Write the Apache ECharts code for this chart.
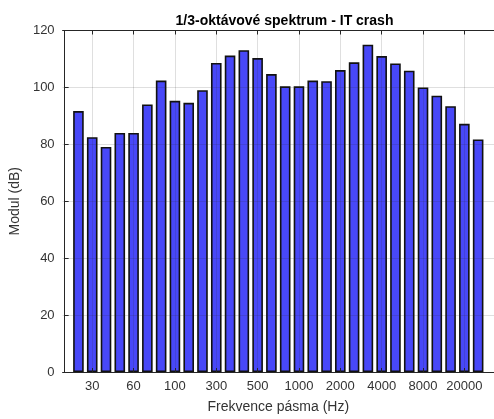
<!DOCTYPE html>
<html><head><meta charset="utf-8">
<script src="https://cdn.jsdelivr.net/npm/echarts@6/dist/echarts.min.js"></script>
<style>html,body{margin:0;padding:0;background:#fff}#c{width:494px;height:419px}</style>
</head><body><div id="c"></div>
<script>
// 1/3-octave band index (1 = 25 Hz ... 30 = 20 kHz)
const bandIndex = [1,2,3,4,5,6,7,8,9,10,11,12,13,14,15,16,17,18,19,20,21,22,23,24,25,26,27,28,29,30];
const levels = [91.7,82.5,79.1,84.0,84.0,94.0,102.4,95.3,94.6,99.0,108.6,111.2,113.1,110.3,104.7,100.4,100.4,102.4,102.2,106.1,108.8,115.0,111.0,108.4,105.9,100.0,97.1,93.4,87.2,81.7];
const tickPositions = [2,5,8,11,14,17,20,23,26,29];
const tickLabels = ['30','60','100','300','500','1000','2000','4000','8000','20000'];
const yMin = 0, yMax = 120, yStep = 20;

const txt = '#333333';
const font = 'Liberation Sans, Arial, Helvetica, sans-serif';
const chart = echarts.init(document.getElementById('c'), null, {renderer: 'canvas'});
chart.setOption({
  animation: false,
  backgroundColor: '#ffffff',
  title: {
    text: '1/3-oktávové spektrum - IT crash',
    left: 279.5, top: 9, textAlign: 'center',
    textStyle: {fontFamily: font, fontSize: 14, fontWeight: 'bold', color: '#000'}
  },
  grid: {left: 60, top: 30.5, width: 439, height: 347.2, containLabel: false},
  xAxis: [{
    type: 'value', min: -0.15, max: 31.15, position: 'bottom', z: 5,
    name: 'Frekvence pásma (Hz)', nameLocation: 'middle', nameGap: 28,
    nameTextStyle: {fontFamily: font, fontSize: 14, color: txt},
    axisLine: {show: true, lineStyle: {color: '#262626', width: 1}},
    axisTick: {show: true, inside: true, length: 4, customValues: tickPositions, lineStyle: {color: '#262626'}},
    axisLabel: {customValues: tickPositions, margin: 8, fontFamily: font, fontSize: 13, color: txt,
      formatter: v => tickLabels[tickPositions.indexOf(v)] || ''},
    splitLine: {show: true, lineStyle: {color: 'rgba(38,38,38,0.15)', width: 1}}
  }, {
    type: 'value', min: -0.15, max: 31.15, position: 'top', z: 5,
    axisLine: {show: true, lineStyle: {color: '#262626', width: 1}},
    axisTick: {show: true, inside: true, length: 4, customValues: tickPositions, lineStyle: {color: '#262626'}},
    axisLabel: {show: false},
    splitLine: {show: false}
  }],
  yAxis: {
    type: 'value', min: yMin, max: yMax, interval: yStep, z: 5,
    name: 'Modul (dB)', nameLocation: 'middle', nameGap: 36,
    nameTextStyle: {fontFamily: font, fontSize: 14, color: txt},
    axisLine: {show: true, lineStyle: {color: '#262626', width: 1}},
    axisTick: {show: true, inside: true, length: 4, lineStyle: {color: '#262626'}},
    axisLabel: {margin: 8, fontFamily: font, fontSize: 13, color: txt},
    splitLine: {show: true, lineStyle: {color: 'rgba(38,38,38,0.15)', width: 1}}
  },
  series: [{
    type: 'bar', xAxisIndex: 0,
    data: bandIndex.map((b, i) => [b, levels[i]]),
    barWidth: 10.6,
    itemStyle: {color: '#4848F8', borderColor: '#111111', borderWidth: 1.6}
  }]
});
</script></body></html>
